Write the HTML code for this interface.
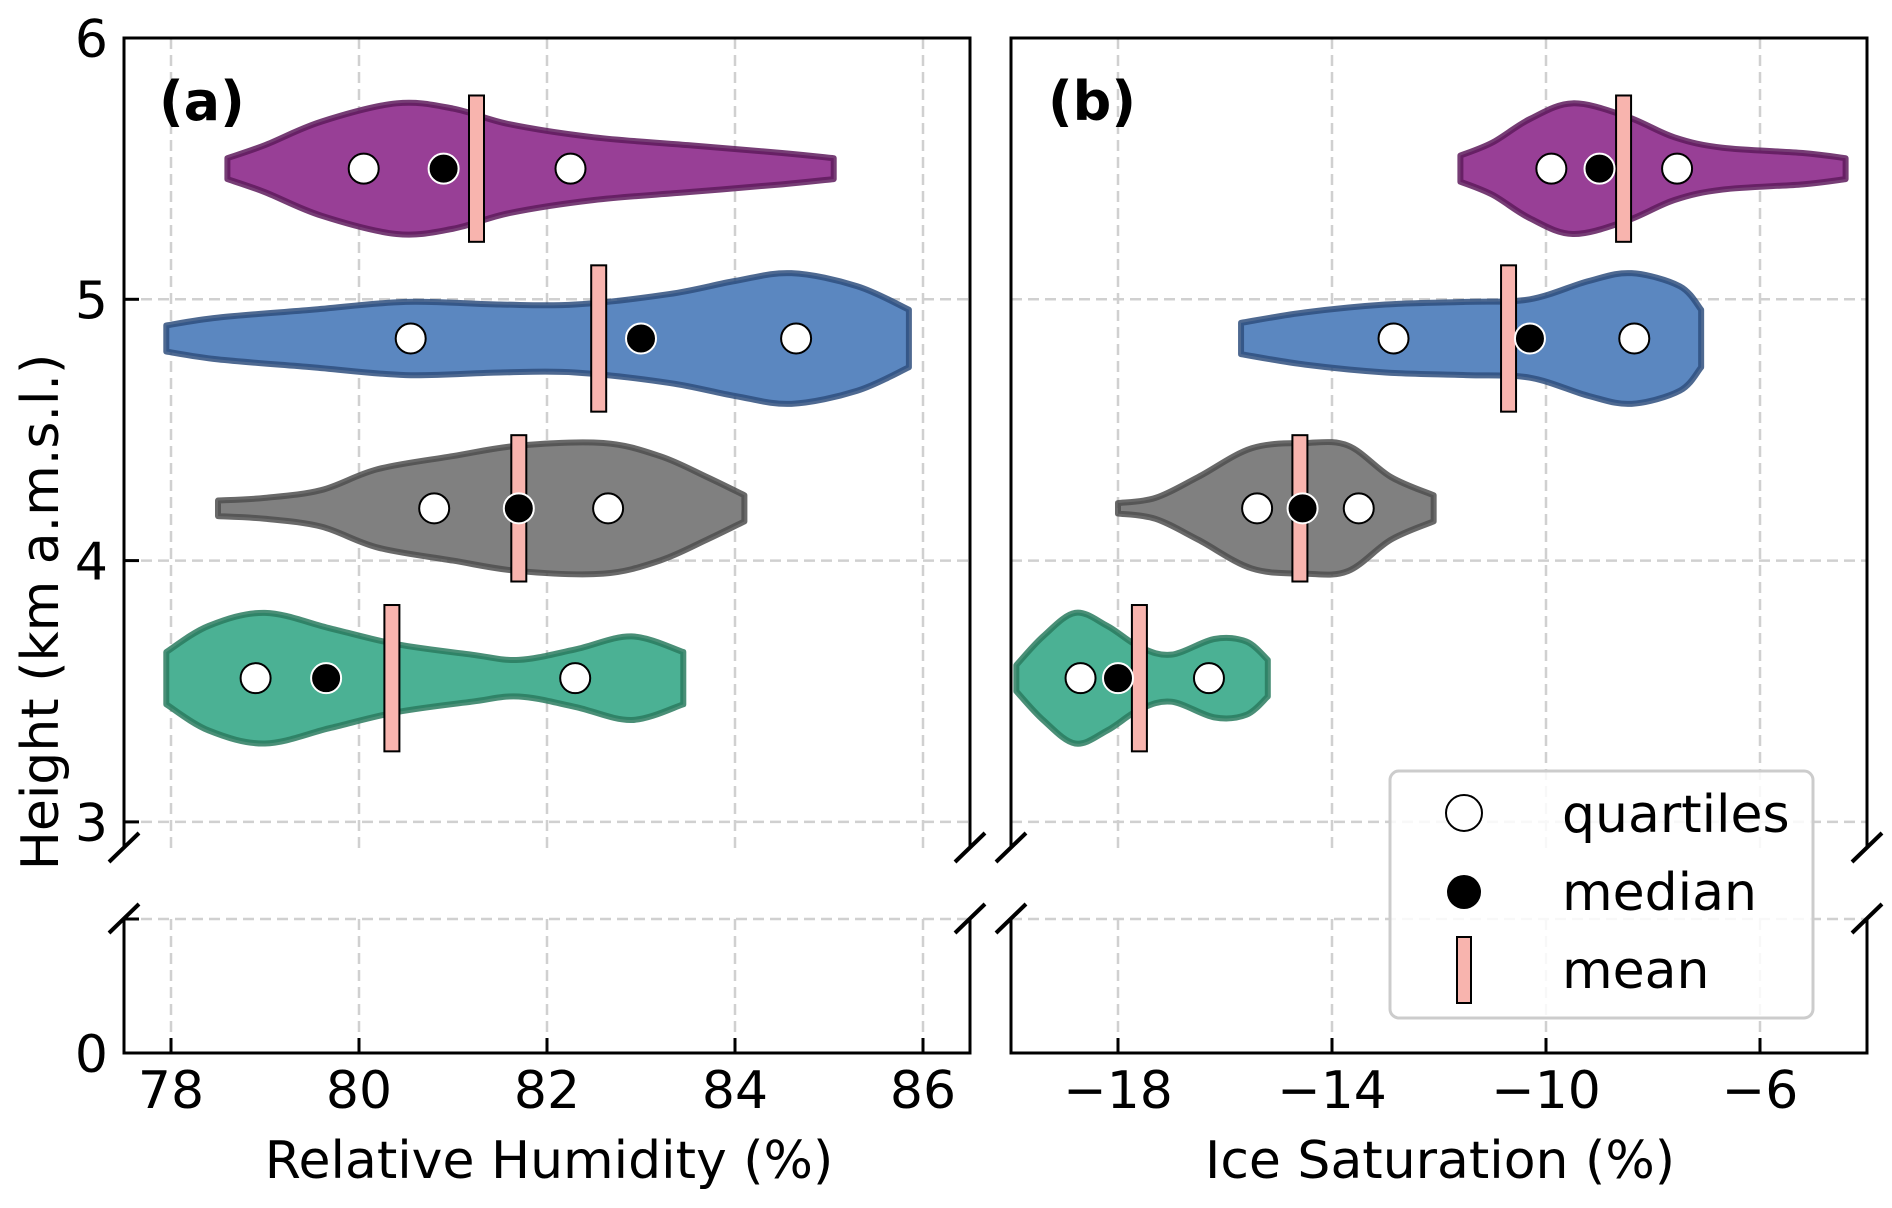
<!DOCTYPE html>
<html><head><meta charset="utf-8"><style>
html,body{margin:0;padding:0;background:#fff}
svg{display:block}
text{font-family:"DejaVu Sans","Liberation Sans",sans-serif;fill:#000}
</style></head><body>
<svg id="chart" width="1892" height="1208" viewBox="0 0 1892 1208" xmlns="http://www.w3.org/2000/svg">
<g id="grid"></g>
<g id="violins"></g>
<g id="axes"></g>
<text x="159" y="120" font-size="54" font-weight="bold">(a)</text>
<text x="1048" y="120" font-size="54" font-weight="bold">(b)</text>
<text x="549" y="1178" font-size="52" text-anchor="middle">Relative Humidity (%)</text>
<text x="1440" y="1178" font-size="52" text-anchor="middle">Ice Saturation (%)</text>
<text x="0" y="0" font-size="52" text-anchor="middle" transform="translate(58,612) rotate(-90)">Height (km a.m.s.l.)</text>
<g>
<rect x="1390" y="771" width="423" height="247" rx="9" fill="#fff" fill-opacity="0.85" stroke="#cccccc" stroke-width="3"/>
<circle cx="1464" cy="813" r="18" fill="#fff" stroke="#000" stroke-width="2"/>
<text x="1562" y="832" font-size="52">quartiles</text>
<circle cx="1464" cy="892" r="17" fill="#000"/>
<text x="1562" y="910" font-size="52">median</text>
<rect x="1457" y="937" width="14" height="66" fill="#f8b4ae" stroke="#000" stroke-width="2"/>
<text x="1562" y="988" font-size="52">mean</text>
</g>
</svg>
<script>
const heights = [5.5, 4.85, 4.2, 3.55];
const colors = ["#983f96", "#5b87c0", "#808080", "#4bb194"];
const edges = ["#5e1b5d", "#2f4f7e", "#4f4f4f", "#2a7b5f"];
const names = ["purple", "blue", "gray", "green"];
// Panel A: relative humidity
const rhShapeX = [
 [78.6,79.0,79.6,80.4,81.0,81.6,82.5,83.5,84.5,85.05],
 [77.95,78.5,79.5,80.5,81.5,82.3,83.3,84.0,84.6,85.3,85.85],
 [78.5,79.0,79.6,80.2,81.0,81.7,82.6,83.2,83.7,84.1],
 [77.95,78.4,79.0,79.7,80.4,81.2,81.7,82.3,82.9,83.45]
];
const rhShapeW = [
 [0.04,0.09,0.18,0.25,0.23,0.17,0.12,0.09,0.06,0.04],
 [0.05,0.08,0.11,0.14,0.13,0.13,0.17,0.22,0.25,0.2,0.11],
 [0.03,0.04,0.07,0.15,0.2,0.24,0.25,0.2,0.12,0.05],
 [0.1,0.2,0.25,0.19,0.13,0.09,0.07,0.11,0.16,0.1]
];
const rhQ1 = [80.05, 80.55, 80.8, 78.9];
const rhQ3 = [82.25, 84.65, 82.65, 82.3];
const rhMedian = [80.9, 83.0, 81.7, 79.65];
const rhMean = [81.25, 82.55, 81.7, 80.35];
// Panel B: ice saturation
const isShapeX = [
 [-11.6,-11.0,-10.3,-9.5,-8.5,-7.6,-6.7,-5.2,-4.4],
 [-15.7,-14.5,-13.0,-11.5,-10.3,-9.2,-8.4,-7.5,-7.1],
 [-18.0,-17.3,-16.5,-15.5,-14.5,-13.7,-12.9,-12.1],
 [-19.9,-19.4,-18.8,-18.2,-17.6,-17.0,-16.2,-15.6,-15.2]
];
const isShapeW = [
 [0.05,0.1,0.19,0.25,0.2,0.12,0.08,0.06,0.04],
 [0.06,0.1,0.13,0.14,0.15,0.22,0.25,0.2,0.11],
 [0.02,0.04,0.12,0.23,0.25,0.24,0.12,0.05],
 [0.05,0.16,0.25,0.2,0.12,0.09,0.15,0.14,0.07]
];
const isQ1 = [-9.9, -12.85, -15.4, -18.7];
const isQ3 = [-7.55, -8.35, -13.5, -16.3];
const isMedian = [-9.0, -10.3, -14.55, -18.0];
const isMean = [-8.55, -10.7, -14.6, -17.6];
const rhTicks = [78, 80, 82, 84, 86];
const isTicks = [-18, -14, -10, -6];
const yTicks = [3, 4, 5, 6];

const NS = "http://www.w3.org/2000/svg";
function mk(tag, attrs, parent){const e=document.createElementNS(NS,tag);for(const k in attrs)e.setAttribute(k,attrs[k]);parent.appendChild(e);return e;}
const yU = v => 38 + (6 - v) * 261.3;
const xA = v => 124 + (v - 77.5) * 94;
const xB = v => 1011 + (v + 20) * 53.5;
const TOP = 38, UB = 848, LT = 919, BOT = 1053;
const grid = document.getElementById('grid');
const axes = document.getElementById('axes');
const vg = document.getElementById('violins');
const panels = [
 {x: xA, l: 124, r: 970, ticks: rhTicks, sx: rhShapeX, sw: rhShapeW, q1: rhQ1, q3: rhQ3, med: rhMedian, mean: rhMean, id: 'a', fmt: t => String(t)},
 {x: xB, l: 1011, r: 1867, ticks: isTicks, sx: isShapeX, sw: isShapeW, q1: isQ1, q3: isQ3, med: isMedian, mean: isMean, id: 'b', fmt: t => (t < 0 ? '\u2212' + Math.abs(t) : String(t))}
];
function smooth(pts){
  let d = 'M' + pts[0][0] + ',' + pts[0][1];
  for (let i = 0; i < pts.length - 1; i++) {
    const p0 = pts[Math.max(0, i - 1)], p1 = pts[i], p2 = pts[i + 1], p3 = pts[Math.min(pts.length - 1, i + 2)];
    const c1 = [p1[0] + (p2[0] - p0[0]) / 6, p1[1] + (p2[1] - p0[1]) / 6];
    const c2 = [p2[0] - (p3[0] - p1[0]) / 6, p2[1] - (p3[1] - p1[1]) / 6];
    d += ' C' + c1[0] + ',' + c1[1] + ' ' + c2[0] + ',' + c2[1] + ' ' + p2[0] + ',' + p2[1];
  }
  return d;
}
panels.forEach(p => {
  p.ticks.forEach(t => {
    const g1 = mk('line', {x1: p.x(t), x2: p.x(t), y1: TOP, y2: UB, stroke: '#d0d0d0', 'stroke-width': 2.5, 'stroke-dasharray': '11,6'}, grid);
    
    
    mk('line', {x1: p.x(t), x2: p.x(t), y1: LT, y2: BOT, stroke: '#d0d0d0', 'stroke-width': 2.5, 'stroke-dasharray': '11,6'}, grid);
  });
  yTicks.forEach(t => {
    const g2 = mk('line', {x1: p.l, x2: p.r, y1: yU(t), y2: yU(t), stroke: '#d0d0d0', 'stroke-width': 2.5, 'stroke-dasharray': '11,6'}, grid);
    
    
  });
  mk('line', {x1: p.l, x2: p.r, y1: LT, y2: LT, stroke: '#d0d0d0', 'stroke-width': 2.5, 'stroke-dasharray': '11,6'}, grid);
  for (let i = 0; i < heights.length; i++) {
    const xs = p.sx[i], ws = p.sw[i], h = heights[i];
    const top = xs.map((v, k) => [p.x(v), yU(h + ws[k])]);
    const bot = xs.map((v, k) => [p.x(v), yU(h - ws[k])]).reverse();
    const d = smooth(top) + ' L' + bot[0][0] + ',' + bot[0][1] + smooth(bot).replace(/^M[^ ]+/, '') + ' Z';
    const path = mk('path', {d: d, fill: colors[i], stroke: edges[i], 'stroke-width': 6, 'stroke-opacity': 0.85, 'stroke-linejoin': 'round'}, vg);
    
    
    const cy = yU(h);
    const m = mk('rect', {x: p.x(p.mean[i]) - 7.5, y: yU(h + 0.28), width: 15, height: yU(h - 0.28) - yU(h + 0.28), fill: '#f8b4ae', stroke: '#000', 'stroke-width': 2}, vg);
    
    
    [p.q1[i], p.q3[i]].forEach(q => {
      const c = mk('circle', {cx: p.x(q), cy: cy, r: 15, fill: '#fff', stroke: '#000', 'stroke-width': 2}, vg);
      
      
    });
    const md = mk('circle', {cx: p.x(p.med[i]), cy: cy, r: 15, fill: '#000', stroke: '#fff', 'stroke-width': 2}, vg);
    
    
  }
  const sp = {stroke: '#000', 'stroke-width': 3, fill: 'none'};
  mk('path', Object.assign({d: `M${p.l},${UB} L${p.l},${TOP} L${p.r},${TOP} L${p.r},${UB}`}, sp), axes);
  mk('path', Object.assign({d: `M${p.l},${LT} L${p.l},${BOT} L${p.r},${BOT} L${p.r},${LT}`}, sp), axes);
  [p.l, p.r].forEach(x => {
    mk('line', {x1: x - 15, y1: UB + 14, x2: x + 15, y2: UB - 15, stroke: '#000', 'stroke-width': 4}, axes);
    mk('line', {x1: x - 15, y1: LT + 14, x2: x + 15, y2: LT - 15, stroke: '#000', 'stroke-width': 4}, axes);
  });
  p.ticks.forEach(t => {
    mk('line', {x1: p.x(t), x2: p.x(t), y1: BOT, y2: BOT - 15, stroke: '#000', 'stroke-width': 3}, axes);
    const tl = mk('text', {x: p.x(t), y: 1108, 'font-size': 52, 'text-anchor': 'middle'}, axes);
    tl.textContent = p.fmt(t);
    
    
  });
});
yTicks.forEach(t => {
  mk('line', {x1: 124, x2: 139, y1: yU(t), y2: yU(t), stroke: '#000', 'stroke-width': 3}, axes);
  const tl = mk('text', {x: 108, y: yU(t) + 19, 'font-size': 52, 'text-anchor': 'end'}, axes);
  tl.textContent = String(t);
  
  
});
mk('line', {x1: 124, x2: 139, y1: LT, y2: LT, stroke: '#000', 'stroke-width': 3}, axes);
const z = mk('text', {x: 108, y: BOT + 19, 'font-size': 52, 'text-anchor': 'end'}, axes);
z.textContent = '0';


</script>
</body></html>
